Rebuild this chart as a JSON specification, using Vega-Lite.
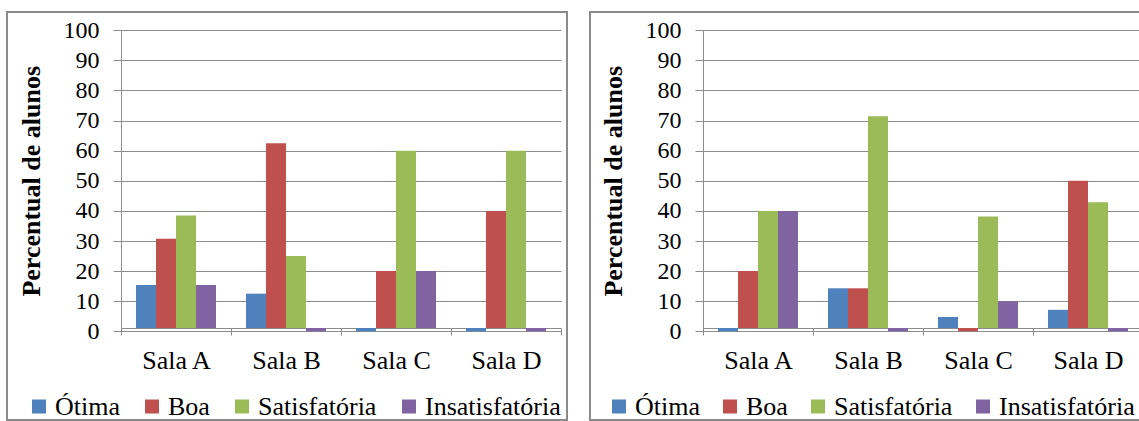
{
  "$schema": "https://vega.github.io/schema/vega-lite/v6.json",
  "background": "white",
  "padding": {"left": 6, "top": 11, "right": 0, "bottom": 0},
  "spacing": 21,
  "datasets": {
    "avaliacao_1": [
      {"sala": "Sala A", "conceito": "Ótima", "percentual": 15.38},
      {"sala": "Sala A", "conceito": "Boa", "percentual": 30.77},
      {"sala": "Sala A", "conceito": "Satisfatória", "percentual": 38.46},
      {"sala": "Sala A", "conceito": "Insatisfatória", "percentual": 15.38},
      {"sala": "Sala B", "conceito": "Ótima", "percentual": 12.5},
      {"sala": "Sala B", "conceito": "Boa", "percentual": 62.5},
      {"sala": "Sala B", "conceito": "Satisfatória", "percentual": 25},
      {"sala": "Sala B", "conceito": "Insatisfatória", "percentual": 0},
      {"sala": "Sala C", "conceito": "Ótima", "percentual": 0},
      {"sala": "Sala C", "conceito": "Boa", "percentual": 20},
      {"sala": "Sala C", "conceito": "Satisfatória", "percentual": 60},
      {"sala": "Sala C", "conceito": "Insatisfatória", "percentual": 20},
      {"sala": "Sala D", "conceito": "Ótima", "percentual": 0},
      {"sala": "Sala D", "conceito": "Boa", "percentual": 40},
      {"sala": "Sala D", "conceito": "Satisfatória", "percentual": 60},
      {"sala": "Sala D", "conceito": "Insatisfatória", "percentual": 0}
    ],
    "avaliacao_2": [
      {"sala": "Sala A", "conceito": "Ótima", "percentual": 0},
      {"sala": "Sala A", "conceito": "Boa", "percentual": 20},
      {"sala": "Sala A", "conceito": "Satisfatória", "percentual": 40},
      {"sala": "Sala A", "conceito": "Insatisfatória", "percentual": 40},
      {"sala": "Sala B", "conceito": "Ótima", "percentual": 14.29},
      {"sala": "Sala B", "conceito": "Boa", "percentual": 14.29},
      {"sala": "Sala B", "conceito": "Satisfatória", "percentual": 71.43},
      {"sala": "Sala B", "conceito": "Insatisfatória", "percentual": 0},
      {"sala": "Sala C", "conceito": "Ótima", "percentual": 4.76},
      {"sala": "Sala C", "conceito": "Boa", "percentual": 0},
      {"sala": "Sala C", "conceito": "Satisfatória", "percentual": 38.1},
      {"sala": "Sala C", "conceito": "Insatisfatória", "percentual": 10},
      {"sala": "Sala D", "conceito": "Ótima", "percentual": 7.14},
      {"sala": "Sala D", "conceito": "Boa", "percentual": 50},
      {"sala": "Sala D", "conceito": "Satisfatória", "percentual": 42.86},
      {"sala": "Sala D", "conceito": "Insatisfatória", "percentual": 0}
    ]
  },
  "config": {
    "font": "Liberation Serif",
    "view": {"stroke": "#8a8a8a", "strokeWidth": 2},
    "style": {
      "guide-label": {"font": "Liberation Serif", "fill": "#000000"},
      "guide-title": {"font": "Liberation Serif", "fill": "#000000"}
    },
    "axis": {
      "labelFont": "Liberation Serif",
      "titleFont": "Liberation Serif",
      "labelColor": "#000000",
      "titleColor": "#000000",
      "domainColor": "#8c8c8c",
      "tickColor": "#8c8c8c",
      "gridColor": "#8c8c8c",
      "gridOpacity": 1,
      "domainWidth": 1,
      "tickWidth": 1
    },
    "legend": {
      "labelFont": "Liberation Serif",
      "labelColor": "#000000"
    }
  },
  "resolve": {"legend": {"color": "independent"}},
  "hconcat": [
    {
      "data": {"name": "avaliacao_1"},
      "width": 560,
      "height": 408,
      "mark": {"type": "bar"},
      "encoding": {
        "x": {
          "field": "sala", "type": "nominal",
          "sort": ["Sala A", "Sala B", "Sala C", "Sala D"],
          "scale": {"range": [114, 554], "paddingInner": 0, "paddingOuter": 0},
          "axis": {"title": null, "offset": -92, "labelAngle": 0, "labelFontSize": 26, "labelPadding": 12, "tickSize": 7, "tickBand": "extent", "grid": false}
        },
        "xOffset": {
          "field": "conceito", "type": "nominal",
          "sort": ["Ótima", "Boa", "Satisfatória", "Insatisfatória"],
          "scale": {"paddingInner": 0, "paddingOuter": 0.75}
        },
        "y": {
          "field": "percentual", "type": "quantitative",
          "scale": {"domain": [0, 100], "range": [319.3, 18.3], "nice": false, "zero": false},
          "axis": {"title": "Percentual de alunos", "values": [0, 10, 20, 30, 40, 50, 60, 70, 80, 90, 100], "offset": -114, "grid": true, "tickSize": 8, "labelPadding": 14, "labelFontSize": 24, "titleFontSize": 26, "titleFontWeight": "bold", "titlePadding": 19}
        },
        "y2": {"datum": 1.1},
        "color": {
          "field": "conceito", "type": "nominal",
          "scale": {"domain": ["Ótima", "Boa", "Satisfatória", "Insatisfatória"], "range": ["#4f81bd", "#c0504d", "#9bbb59", "#8064a2"]},
          "legend": {"title": null, "orient": "none", "legendX": 19, "legendY": 381.5, "direction": "horizontal", "symbolType": "square", "symbolSize": 196, "symbolStrokeWidth": 0, "labelFontSize": 26, "labelOffset": 3, "columnPadding": 19, "padding": 0}
        }
      }
    },
    {
      "data": {"name": "avaliacao_2"},
      "width": 553,
      "height": 408,
      "mark": {"type": "bar"},
      "encoding": {
        "x": {
          "field": "sala", "type": "nominal",
          "sort": ["Sala A", "Sala B", "Sala C", "Sala D"],
          "scale": {"range": [113, 553], "paddingInner": 0, "paddingOuter": 0},
          "axis": {"title": null, "offset": -92, "labelAngle": 0, "labelFontSize": 26, "labelPadding": 12, "tickSize": 7, "tickBand": "extent", "grid": false}
        },
        "xOffset": {
          "field": "conceito", "type": "nominal",
          "sort": ["Ótima", "Boa", "Satisfatória", "Insatisfatória"],
          "scale": {"paddingInner": 0, "paddingOuter": 0.75}
        },
        "y": {
          "field": "percentual", "type": "quantitative",
          "scale": {"domain": [0, 100], "range": [319.3, 18.3], "nice": false, "zero": false},
          "axis": {"title": "Percentual de alunos", "values": [0, 10, 20, 30, 40, 50, 60, 70, 80, 90, 100], "offset": -113, "grid": true, "tickSize": 8, "labelPadding": 14, "labelFontSize": 24, "titleFontSize": 26, "titleFontWeight": "bold", "titlePadding": 19}
        },
        "y2": {"datum": 1.1},
        "color": {
          "field": "conceito", "type": "nominal",
          "scale": {"domain": ["Ótima", "Boa", "Satisfatória", "Insatisfatória"], "range": ["#4f81bd", "#c0504d", "#9bbb59", "#8064a2"]},
          "legend": {"title": null, "orient": "none", "legendX": 16, "legendY": 381.5, "direction": "horizontal", "symbolType": "square", "symbolSize": 196, "symbolStrokeWidth": 0, "labelFontSize": 26, "labelOffset": 3, "columnPadding": 17, "padding": 0}
        }
      }
    }
  ]
}
